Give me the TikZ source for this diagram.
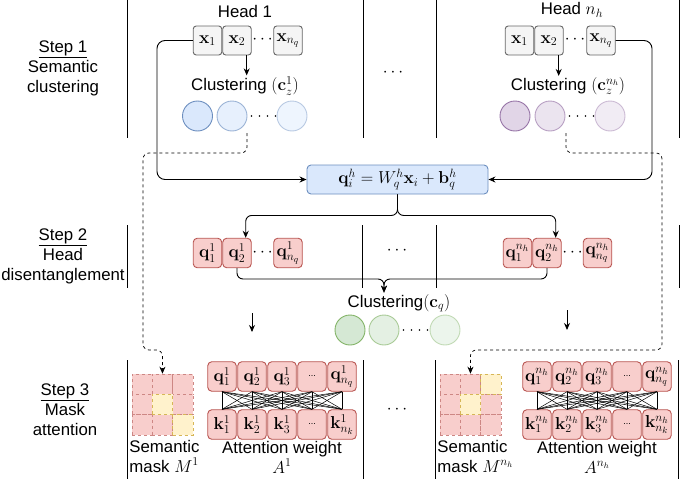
\documentclass[tikz,border=0pt]{standalone}
\usepackage[no-math]{fontspec}
\setmainfont{Liberation Sans}
\usetikzlibrary{arrows.meta}

\definecolor{lblue}{HTML}{DAE8FC}
\definecolor{cblue}{HTML}{6C8EBF}
\definecolor{qpink}{HTML}{F8CECC}
\definecolor{qred}{HTML}{B85450}
\definecolor{lgreen}{HTML}{D5E8D4}
\definecolor{cgreen}{HTML}{82B366}
\definecolor{lpurple}{HTML}{E1D5E7}
\definecolor{cpurple}{HTML}{9673A6}
\definecolor{lyel}{HTML}{FFF2CC}
\definecolor{cyel}{HTML}{D6B656}
\definecolor{xgray}{HTML}{F5F5F5}
\definecolor{dgray}{HTML}{666666}

\newcommand{\smalldots}{{\fontsize{9}{10}\selectfont ...}}

\tikzset{
  mathsize/.style={font=\fontsize{18.5}{22}\selectfont},
  xbox/.style={mathsize, draw=dgray, fill=xgray, rounded corners=3pt, minimum width=28.5pt, minimum height=29pt, inner sep=0pt},
  qbox/.style={mathsize, draw=qred, fill=qpink, rounded corners=4pt, minimum width=28.5pt, minimum height=29.5pt, inner sep=0pt},
  fbox/.style={mathsize, draw=cblue, fill=lblue, rounded corners=4pt, minimum width=181pt, minimum height=29pt},
  clu/.style={circle, minimum size=30pt, inner sep=0pt},
  bluec/.style={clu, draw=cblue, fill=lblue},
  purc/.style={clu, draw=cpurple, fill=lpurple},
  grnc/.style={clu, draw=cgreen, fill=lgreen},
  mcell/.style={draw=qred!70, fill=qpink, dashed, line width=0.6pt, minimum size=20.3pt, inner sep=0pt},
  ycell/.style={mcell, draw=cyel, fill=lyel},
  arr/.style={-{Stealth[length=7pt,width=6pt]}},
  dotline/.style={dash pattern=on 0pt off 8pt, dash phase=4pt, line cap=round, line width=1.8pt},
  crossline/.style={line width=0.5pt}
}

\begin{document}
\begin{tikzpicture}[x=1pt,y=-1pt,line width=0.9pt,inner sep=1pt,font=\fontsize{16.8}{20}\selectfont]
\useasboundingbox (0,0) rectangle (682,479);

\node[align=center] (step1) at (63,68) {\underline{Step 1}\\Semantic\\clustering};
\node[align=center] (step2) at (63,256) {\underline{Step 2}\\Head\\disentanglement};
\node[align=center] (step3) at (65,410) {\underline{Step 3}\\Mask\\attention};

\foreach \x in {127,363,436,679} \draw (\x,0) -- (\x,138);
\foreach \x in {127,362,436,679} \draw (\x,225) -- (\x,288);
\foreach \x in {127,363,435,678} \draw (\x,360) -- (\x,479);

\node (gap1) at (393,73) {$\cdots$};
\node (gap2) at (397,251) {$\cdots$};
\node (gap3) at (397,410) {$\cdots$};

\node (heada) at (245,11) {Head 1};
\node[xbox] (xa1) at (207.5,40.5) {$\mathbf{x}_1$};
\node[xbox] (xa2) at (237,40.5) {$\mathbf{x}_2$};
\node[xbox] (xa3) at (288,40.5) {$\mathbf{x}_{n_q}$};
\node (xadots) at (262.5,40) {$\cdots$};
\node (cza) at (245,86) {Clustering $(\mathbf{c}_z^1)$};
\node[bluec] (ca1) at (197.5,116) {};
\node[bluec, opacity=0.65] (ca2) at (232,116) {};
\node[bluec, opacity=0.45] (ca3) at (292,116) {};
\draw[dotline] (ca2.east) -- (ca3.west);
\draw[arr] ([xshift=-5pt]xa2.south east) -- ([xshift=-5pt]xa2.south east |- cza.north);

\node (headb) at (572,10) {Head $n_h$};
\node[xbox] (xb1) at (519.5,40.5) {$\mathbf{x}_1$};
\node[xbox] (xb2) at (549,40.5) {$\mathbf{x}_2$};
\node[xbox] (xb3) at (601,40.5) {$\mathbf{x}_{n_q}$};
\node (xbdots) at (575,40) {$\cdots$};
\node (czb) at (568,86) {Clustering $(\mathbf{c}_z^{n_h})$};
\node[purc] (cb1) at (515,116) {};
\node[purc, opacity=0.65] (cb2) at (550,116) {};
\node[purc, opacity=0.45] (cb3) at (610,116) {};
\draw[dotline] (cb2.east) -- (cb3.west);
\draw[arr] ([xshift=-5pt]xb2.south east) -- ([xshift=-5pt]xb2.south east |- czb.north);

\node[fbox] (proj) at (397.5,179.5) {$\mathbf{q}_i^h = W_q^h\mathbf{x}_i + \mathbf{b}_q^h$};
\coordinate (lbend) at (157,179.5);
\coordinate (rbend) at (652,179.5);
\draw[arr, rounded corners=8pt] (xa1.west) -| (lbend) -- (proj.west);
\draw[arr, rounded corners=8pt] (xb3.east) -| (rbend) -- (proj.east);

\node[qbox] (qa1) at (207.5,253) {$\mathbf{q}_1^1$};
\node[qbox] (qa2) at (237,253) {$\mathbf{q}_2^1$};
\node[qbox] (qa3) at (288,253) {$\mathbf{q}_{n_q}^1$};
\node (qadots) at (262.5,253) {$\cdots$};
\node[qbox] (qb1) at (517.5,253) {$\mathbf{q}_1^{n_h}$};
\node[qbox] (qb2) at (547,253) {$\mathbf{q}_2^{n_h}$};
\node[qbox] (qb3) at (597.5,253) {$\mathbf{q}_{n_q}^{n_h}$};
\node (qbdots) at (572.5,253) {$\cdots$};
\draw[arr, rounded corners=6pt] (proj.south) -- ++(0,21) -| ([xshift=-6pt]qa2.north east);
\draw[arr, rounded corners=6pt] (proj.south) -- ++(0,21) -| ([xshift=-6pt]qb2.north east);

\node (cq) at (399,303) {Clustering$(\mathbf{c}_q)$};
\coordinate (cjoin) at (384,279);
\draw[arr, rounded corners=6pt] (qa2.south) |- (cjoin) -- (cq.north -| cjoin);
\draw[arr, rounded corners=6pt] (qb2.south) |- (cjoin) -- (cq.north -| cjoin);
\node[grnc] (cg1) at (350,330) {};
\node[grnc, opacity=0.65] (cg2) at (384,330) {};
\node[grnc, opacity=0.45] (cg3) at (445,330) {};
\draw[dotline] (cg2.east) -- (cg3.west);

\coordinate (fa1) at (252,313);
\coordinate (fa2) at (252,332);
\coordinate (fb1) at (567,310);
\coordinate (fb2) at (567,330);
\draw[arr] (fa1) -- (fa2);
\draw[arr] (fb1) -- (fb2);

\foreach \r in {0,1,2} \foreach \c in {0,1,2} {
  \node[mcell] (ma-\r\c) at ({142.15+20.3*\c},{384.15+20.3*\r}) {};
  \node[mcell] (mb-\r\c) at ({450.15+20.3*\c},{384.15+20.3*\r}) {};
}
\node[ycell] (ya1) at (ma-11) {};
\node[ycell] (ya2) at (ma-22) {};
\node[ycell] (yb1) at (mb-02) {};
\node[ycell] (yb2) at (mb-11) {};

\coordinate (da0) at (247,133);
\coordinate (da1) at (143,153);
\coordinate (da2) at (162.45,350);
\coordinate (db0) at (566,133);
\coordinate (db1) at (662,153);
\coordinate (db2) at (470.45,350);
\draw[dashed, line width=0.7pt, arr, rounded corners=6pt] (da0) |- (da1) |- (da2) -- (ma-01.north);
\draw[dashed, line width=0.7pt, arr, rounded corners=6pt] (db0) |- (db1) |- (db2) -- (mb-01.north);

\foreach \i/\t in {1/$\mathbf{q}_1^1$, 2/$\mathbf{q}_2^1$, 3/$\mathbf{q}_3^1$, 4/\smalldots, 5/$\mathbf{q}_{n_q}^1$}
  \node[qbox] (aq\i) at ({192+30*\i},376.5) {\t};
\foreach \i/\t in {1/$\mathbf{k}_1^1$, 2/$\mathbf{k}_2^1$, 3/$\mathbf{k}_3^1$, 4/\smalldots, 5/$\mathbf{k}_{n_k}^1$}
  \node[qbox] (ak\i) at ({192+30*\i},424.5) {\t};
\foreach \i/\t in {1/$\mathbf{q}_1^{n_h}$, 2/$\mathbf{q}_2^{n_h}$, 3/$\mathbf{q}_3^{n_h}$, 4/\smalldots, 5/$\mathbf{q}_{n_q}^{n_h}$}
  \node[qbox] (bq\i) at ({507+30*\i},376.5) {\t};
\foreach \i/\t in {1/$\mathbf{k}_1^{n_h}$, 2/$\mathbf{k}_2^{n_h}$, 3/$\mathbf{k}_3^{n_h}$, 4/\smalldots, 5/$\mathbf{k}_{n_k}^{n_h}$}
  \node[qbox] (bk\i) at ({507+30*\i},424.5) {\t};
\foreach \i in {1,...,5} \foreach \j in {1,...,5} {
  \draw[crossline] (aq\i.south) -- (ak\j.north);
  \draw[crossline] (bq\i.south) -- (bk\j.north);
}

\node[align=left, anchor=west] (mla) at (128,456) {Semantic\\mask $M^1$};
\node[align=center] (awa) at (282,457) {Attention weight\\$A^1$};
\node[align=left, anchor=west] (mlb) at (436,456) {Semantic\\mask $M^{n_h}$};
\node[align=center] (awb) at (597,457) {Attention weight\\$A^{n_h}$};
\end{tikzpicture}
\end{document}
